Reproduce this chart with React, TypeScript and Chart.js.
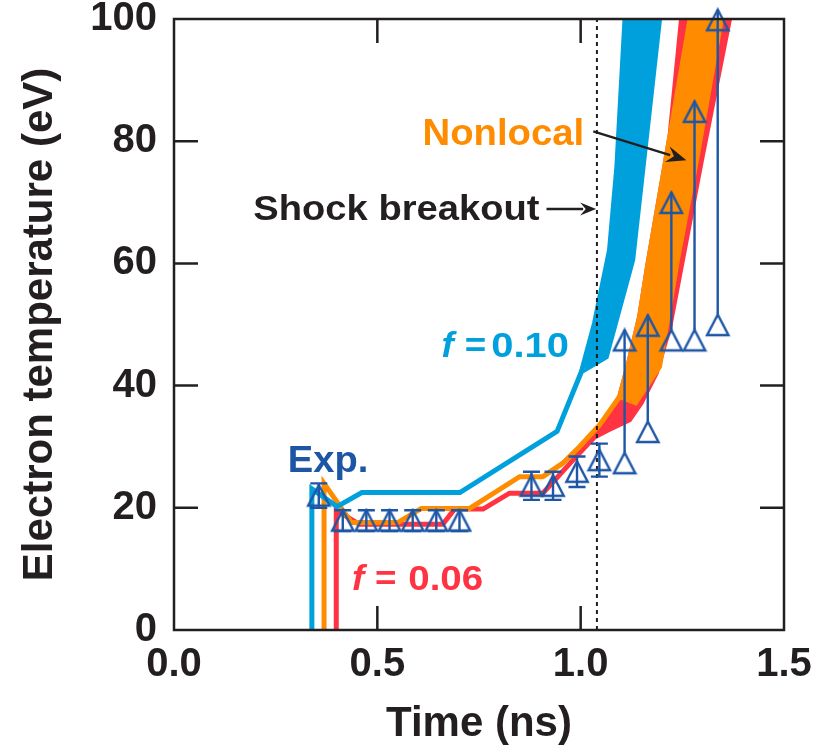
import React, { useEffect, useRef } from 'react';
import { Chart, registerables } from 'chart.js';
Chart.register(...registerables);

const FONT = '"Liberation Sans", Arial, Helvetica, sans-serif';
const INK = '#231f20';
const CYAN = '#00a0dc';
const ORANGE = '#ff8c00';
const RED = '#ff3341';
const EXPBLUE = '#1c56a5';

// f = 0.10 model (band: common path, then hot edge and cool edge)
const blueCommonT = [0.339, 0.339, 0.401, 0.462, 0.703, 0.942, 1.002];
const blueCommonY = [0, 23.1, 20.2, 22.5, 22.5, 32.5, 42.3];
const blueHiT = [1.034, 1.071, 1.089, 1.109];
const blueHiY = [50.2, 62.2, 75.8, 100];
const blueLoT = [1.063, 1.128, 1.194];
const blueLoY = [44.7, 60.6, 100];

// Nonlocal model
const orangeCommonT = [0.369, 0.369, 0.436, 0.551, 0.608, 0.727, 0.850, 0.907, 0.956, 0.997, 1.047, 1.096];
const orangeCommonY = [0, 24.0, 17.6, 17.6, 19.9, 19.9, 25.1, 25.1, 27.3, 30.0, 33.6, 38.2];
const orangeHiT = [1.120, 1.145, 1.165, 1.269];
const orangeHiY = [44.2, 51.3, 59.7, 100];
const orangeLoT = [1.135, 1.194, 1.238, 1.285, 1.346];
const orangeLoY = [37.2, 43.1, 60.6, 76.9, 100];

// f = 0.06 model
const redCommonT = [0.399, 0.399, 0.456, 0.661, 0.690, 0.760, 0.825, 0.907, 0.981, 1.034];
const redCommonY = [0, 19.6, 17.3, 17.3, 19.8, 19.8, 22.4, 22.4, 27.8, 31.6];
const redHiT = [1.096, 1.120, 1.145, 1.165, 1.220, 1.248];
const redHiY = [38.2, 44.2, 51.3, 59.7, 81.0, 100];
const redLoT = [1.066, 1.120, 1.149, 1.186, 1.219, 1.297, 1.366];
const redLoY = [32.7, 34.4, 37.2, 42.1, 49.6, 76.9, 100];

// Experiment
const expT = [0.356, 0.415, 0.473, 0.530, 0.587, 0.645, 0.702, 0.879, 0.932, 0.991, 1.046];
const expY = [22.0, 17.9, 17.9, 17.9, 17.9, 17.9, 17.9, 23.6, 23.6, 25.9, 27.8];
const expErr = [2.0, 1.7, 1.7, 1.7, 1.7, 1.7, 1.7, 2.3, 2.3, 2.5, 2.7];
const rangeT = [1.108, 1.165, 1.223, 1.280, 1.337];
const rangeLow = [27.3, 32.4, 47.4, 47.4, 49.9];
const rangeHigh = [47.4, 49.8, 69.9, 84.8, 99.8];

const shockT = 1.04;

const xTicks = [0, 0.5, 1.0, 1.5];
const yTicks = [0, 20, 40, 60, 80, 100];

function pts(t: number[], y: number[]) {
  return t.map((v, i) => ({ x: v, y: y[i] }));
}
function band(cT: number[], cY: number[], hT: number[], hY: number[], lT: number[], lY: number[]) {
  const common = pts(cT, cY);
  const hi = pts(hT, hY);
  const lo = pts(lT, lY).reverse();
  return [...common, ...hi, ...lo, ...common.slice().reverse()];
}

function makeTriangle(): HTMLCanvasElement {
  const c = document.createElement('canvas');
  c.width = 26;
  c.height = 26;
  const g = c.getContext('2d')!;
  g.strokeStyle = EXPBLUE;
  g.lineWidth = 2.4;
  g.lineJoin = 'miter';
  g.beginPath();
  g.moveTo(13, 2.5);
  g.lineTo(2.3, 23);
  g.lineTo(23.7, 23);
  g.closePath();
  g.stroke();
  return c;
}

const framePlugin = {
  id: 'frameAndNotes',
  afterDatasetsDraw(chart: any) {
    const { ctx, chartArea: a, scales } = chart;
    const xs = scales.x;
    const ys = scales.y;
    ctx.save();
    // error bars and ranges
    ctx.strokeStyle = EXPBLUE;
    ctx.lineWidth = 2.4;
    expT.forEach((t, i) => {
      const x = xs.getPixelForValue(t);
      const y1 = ys.getPixelForValue(expY[i] + expErr[i]);
      const y2 = ys.getPixelForValue(expY[i] - expErr[i]);
      ctx.beginPath();
      ctx.moveTo(x, y1);
      ctx.lineTo(x, y2);
      ctx.moveTo(x - 8.5, y1);
      ctx.lineTo(x + 8.5, y1);
      ctx.moveTo(x - 8.5, y2);
      ctx.lineTo(x + 8.5, y2);
      ctx.stroke();
    });
    rangeT.forEach((t, i) => {
      const x = xs.getPixelForValue(t);
      const yl = ys.getPixelForValue(rangeLow[i]) - 10.5;
      const yh = ys.getPixelForValue(rangeHigh[i]) - 10.5;
      ctx.beginPath();
      ctx.moveTo(x, yl);
      ctx.lineTo(x, yh);
      ctx.stroke();
    });

    // frame
    ctx.strokeStyle = INK;
    ctx.lineWidth = 2.5;
    ctx.strokeRect(a.left, a.top, a.right - a.left, a.bottom - a.top);
    const TL = 24;
    ctx.beginPath();
    xTicks.slice(1, -1).forEach((v) => {
      const x = xs.getPixelForValue(v);
      ctx.moveTo(x, a.bottom);
      ctx.lineTo(x, a.bottom - TL);
      ctx.moveTo(x, a.top);
      ctx.lineTo(x, a.top + TL);
    });
    yTicks.slice(1, -1).forEach((v) => {
      const y = ys.getPixelForValue(v);
      ctx.moveTo(a.left, y);
      ctx.lineTo(a.left + TL, y);
      ctx.moveTo(a.right, y);
      ctx.lineTo(a.right - TL, y);
    });
    ctx.stroke();

    const P = (t: number, v: number) => [xs.getPixelForValue(t), ys.getPixelForValue(v)];
    const text = (s: string, t: number, v: number, font: string, color: string, sx: number) => {
      const [x, y] = P(t, v);
      ctx.save();
      ctx.translate(x, y);
      ctx.scale(sx, 1);
      ctx.font = font;
      ctx.fillStyle = color;
      ctx.textAlign = 'left';
      ctx.textBaseline = 'alphabetic';
      ctx.fillText(s, 0, 0);
      ctx.restore();
    };
    const arrow = (t1: number, v1: number, t2: number, v2: number, head: number) => {
      const [x1, y1] = P(t1, v1);
      const [x2, y2] = P(t2, v2);
      const ang = Math.atan2(y2 - y1, x2 - x1);
      const bx = x2 - head * Math.cos(ang);
      const by = y2 - head * Math.sin(ang);
      ctx.strokeStyle = INK;
      ctx.fillStyle = INK;
      ctx.lineWidth = 2.4;
      ctx.beginPath();
      ctx.moveTo(x1, y1);
      ctx.lineTo(bx + 3 * Math.cos(ang), by + 3 * Math.sin(ang));
      ctx.stroke();
      const w = head * 0.4;
      ctx.beginPath();
      ctx.moveTo(x2, y2);
      ctx.lineTo(bx - w * Math.sin(ang), by + w * Math.cos(ang));
      ctx.lineTo(bx + 0.35 * head * Math.cos(ang), by + 0.35 * head * Math.sin(ang));
      ctx.lineTo(bx + w * Math.sin(ang), by - w * Math.cos(ang));
      ctx.closePath();
      ctx.fill();
    };

    text('Exp.', 0.280, 25.9, `bold 37px ${FONT}`, EXPBLUE, 1.03);
    text('f', 0.658, 44.7, `italic bold 35px ${FONT}`, CYAN, 1.05);
    text('=', 0.715, 44.7, `bold 35px ${FONT}`, CYAN, 1.05);
    text('0.10', 0.780, 44.7, `bold 35px ${FONT}`, CYAN, 1.14);
    text('f', 0.438, 6.55, `italic bold 35px ${FONT}`, RED, 1.05);
    text('=', 0.494, 6.55, `bold 35px ${FONT}`, RED, 1.05);
    text('0.06', 0.576, 6.55, `bold 35px ${FONT}`, RED, 1.1);
    text('Shock breakout', 0.195, 67.1, `bold 35px ${FONT}`, INK, 1.09);
    text('Nonlocal', 0.611, 79.4, `bold 37px ${FONT}`, ORANGE, 1.035);
    arrow(0.916, 68.9, 1.038, 68.9, 16);
    arrow(1.031, 81.6, 1.260, 76.9, 20);
    ctx.restore();
  },
};

export default function App() {
  const ref = useRef<HTMLCanvasElement | null>(null);
  useEffect(() => {
    if (!ref.current) return;
    const tri = makeTriangle();
    const expPoints = pts(expT, expY);
    const rangePoints = [...pts(rangeT, rangeLow), ...pts(rangeT, rangeHigh)];
    const bandStyle = (color: string, order: number, data: any[]) => ({
      data,
      borderColor: color,
      backgroundColor: color,
      borderWidth: 5,
      fill: 'shape',
      pointRadius: 0,
      tension: 0,
      borderJoinStyle: 'miter',
      order,
    });
    const chart = new Chart(ref.current, {
      type: 'line',
      data: {
        datasets: [
          {
            data: expPoints,
            showLine: false,
            pointStyle: tri,
            pointRadius: 10,
            borderColor: EXPBLUE,
            backgroundColor: 'rgba(0,0,0,0)',
            order: 1,
            clip: false,
          } as any,
          {
            data: rangePoints,
            showLine: false,
            pointStyle: tri,
            pointRadius: 10,
            borderColor: EXPBLUE,
            backgroundColor: 'rgba(0,0,0,0)',
            order: 1,
            clip: false,
          } as any,
          {
            data: [
              { x: shockT, y: 0 },
              { x: shockT, y: 100 },
            ],
            borderColor: INK,
            borderWidth: 2,
            borderDash: [4, 4],
            pointRadius: 0,
            fill: false,
            order: 2,
          } as any,
          bandStyle(CYAN, 3, band(blueCommonT, blueCommonY, blueHiT, blueHiY, blueLoT, blueLoY)) as any,
          bandStyle(ORANGE, 4, band(orangeCommonT, orangeCommonY, orangeHiT, orangeHiY, orangeLoT, orangeLoY)) as any,
          bandStyle(RED, 5, band(redCommonT, redCommonY, redHiT, redHiY, redLoT, redLoY)) as any,
        ],
      },
      options: {
        animation: false,
        responsive: false,
        devicePixelRatio: 1,
        events: [],
        layout: { padding: { top: 19, right: 40, left: 0, bottom: 0 } },
        plugins: { legend: { display: false }, tooltip: { enabled: false } },
        scales: {
          x: {
            type: 'linear',
            min: 0,
            max: 1.5,
            afterFit: (s: any) => {
              s.height = 125;
            },
            afterBuildTicks: (s: any) => {
              s.ticks = xTicks.map((v) => ({ value: v }));
            },
            grid: {
              display: true,
              drawOnChartArea: false,
              drawTicks: true,
              tickLength: 15,
              color: 'rgba(0,0,0,0)',
            },
            border: { display: false },
            ticks: {
              padding: 0,
              color: INK,
              font: { family: FONT, weight: 'bold', size: 40, lineHeight: 1 },
              callback: (v: any) => Number(v).toFixed(1),
            },
            title: {
              display: true,
              text: 'Time (ns)',
              color: INK,
              font: { family: FONT, weight: 'bold', size: 42, lineHeight: 1.2 },
              padding: { top: 0, bottom: 5 },
            },
          },
          y: {
            type: 'linear',
            min: 0,
            max: 100,
            afterFit: (s: any) => {
              s.width = 174;
            },
            afterBuildTicks: (s: any) => {
              s.ticks = yTicks.map((v) => ({ value: v }));
            },
            grid: {
              display: true,
              drawOnChartArea: false,
              drawTicks: true,
              tickLength: 17,
              color: 'rgba(0,0,0,0)',
            },
            border: { display: false },
            ticks: {
              padding: 0,
              color: INK,
              font: { family: FONT, weight: 'bold', size: 40, lineHeight: 0.9 },
            },
            title: {
              display: true,
              text: 'Electron temperature (eV)',
              color: INK,
              font: { family: FONT, weight: 'bold', size: 42, lineHeight: 1.2 },
              padding: { top: 15, bottom: 0 },
            },
          },
        },
      } as any,
      plugins: [framePlugin],
    });
    return () => chart.destroy();
  }, []);
  return (
    <div style={{ position: 'fixed', left: 0, top: 0, width: 824, height: 755, background: '#fff' }}>
      <canvas ref={ref} width={824} height={755} style={{ width: 824, height: 755, display: 'block' }} />
    </div>
  );
}
